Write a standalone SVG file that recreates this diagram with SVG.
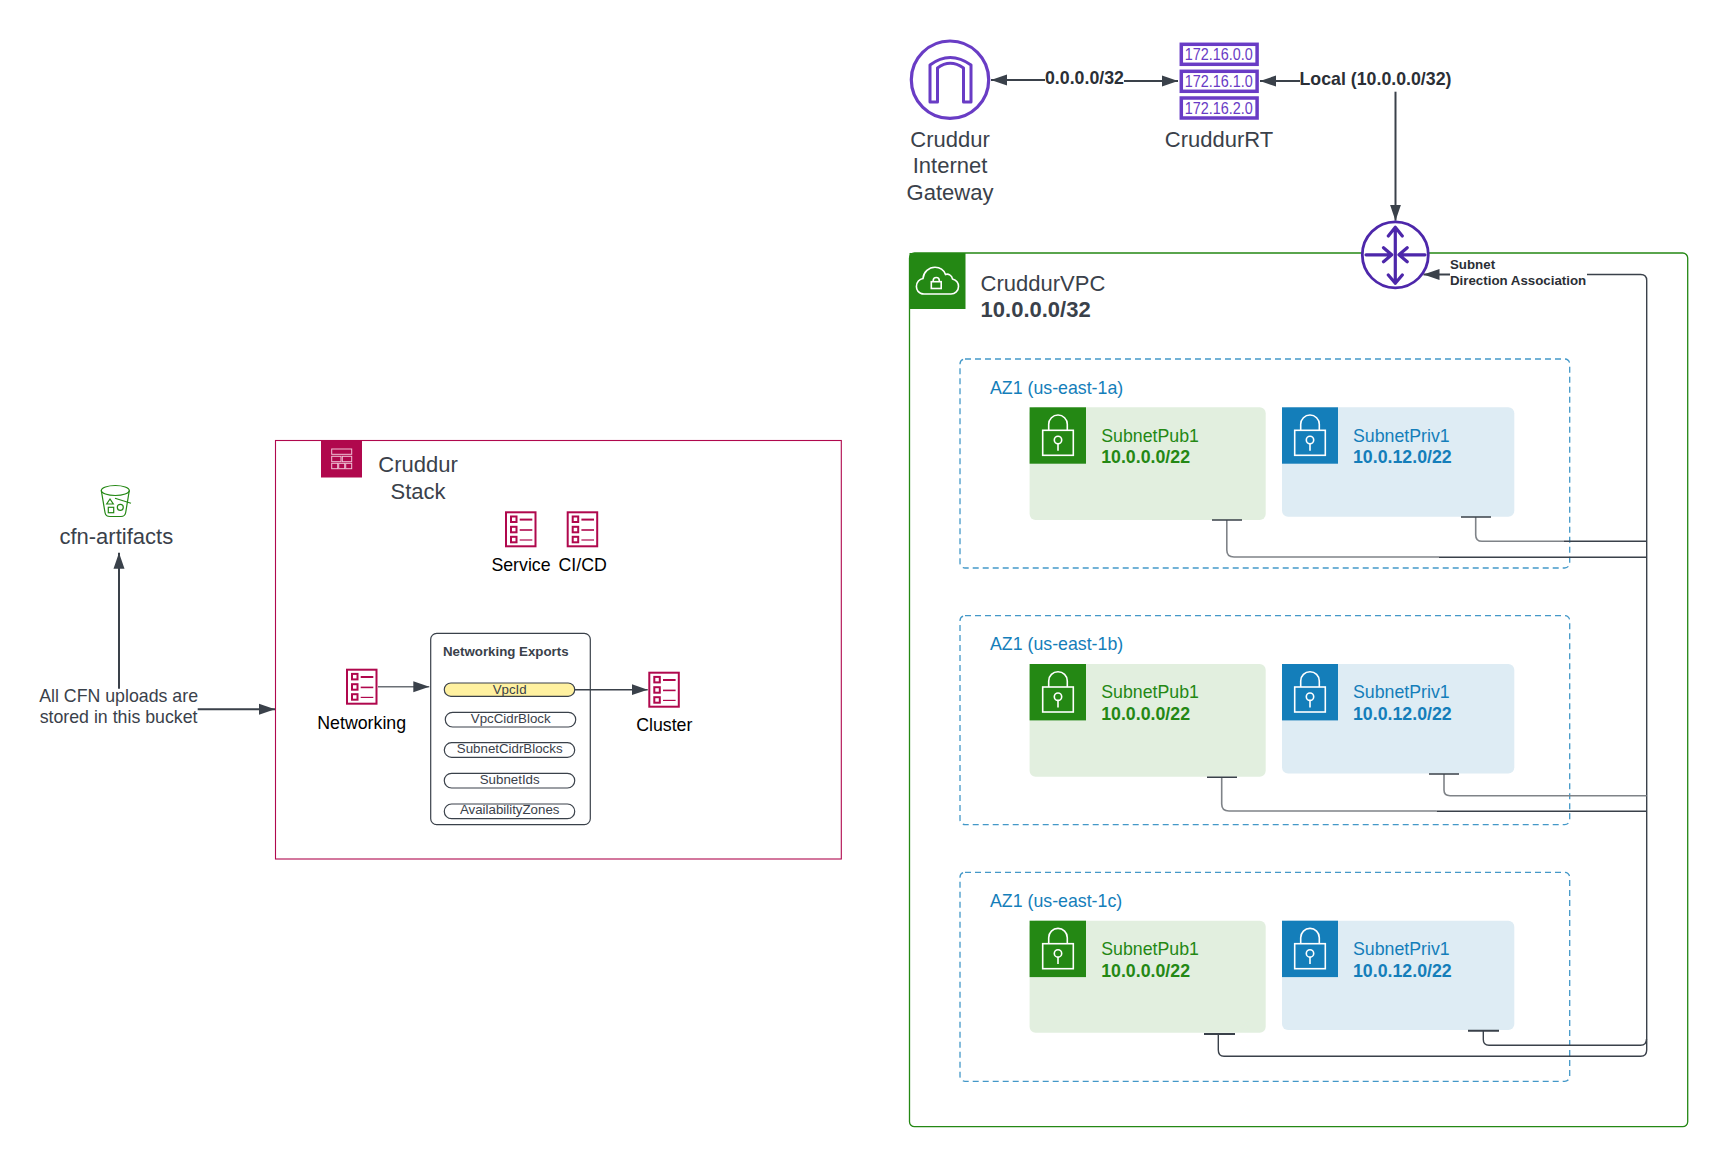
<svg xmlns="http://www.w3.org/2000/svg" width="1729" height="1166" viewBox="0 0 1729 1166">
<style>
text{font-family:"Liberation Sans",Arial,sans-serif;fill:#3a414a}
.t22{font-size:22px}
.t17{font-size:17.75px}
.t13{font-size:13.3px}
.b{font-weight:700}
.m{text-anchor:middle}
.blk{fill:#000}
.g{fill:#248814}
.bl{fill:#147eba}
.az{fill:none;stroke:#147eba;stroke-width:1.3;stroke-dasharray:6 4;opacity:.8}
.pub{fill:#e2efdf}
.priv{fill:#deecf4}
.pill{fill:#fff;stroke:#3a414a;stroke-width:1.2}
.ln{fill:none;stroke:#3a414a;stroke-width:1.4}
.gr{fill:none;stroke:#7f8388;stroke-width:1.6}
.ar{fill:none;stroke:#3a414a;stroke-width:2}
.rt{fill:#fff;stroke:#693cc5;stroke-width:3.5}
.rtt{fill:#693cc5;font-size:16.3px;text-anchor:middle}
.wh{fill:none;stroke:#fff;stroke-width:1.6}
.cr{fill:none;stroke:#b0084d;stroke-width:1.6}
.pu{fill:none;stroke:#4d27aa;stroke-width:3.2;stroke-linecap:round;stroke-linejoin:round}
</style>
<defs>
<marker id="ah" markerUnits="userSpaceOnUse" markerWidth="17" markerHeight="13" refX="16" refY="6" orient="auto-start-reverse"><path d="M0 .5L16 6L0 11.5Z" fill="#3a414a"/></marker>
<g id="lock" class="wh">
<rect x="12.7" y="23" width="30.6" height="25"/>
<path d="M18.7 23V17A9.3 9.3 0 0 1 37.3 17V23"/>
<circle cx="28" cy="32.7" r="3.7"/>
<path d="M28 36.4V43.4"/>
</g>
<g id="doc" class="cr">
<rect x="1" y="1" width="29.5" height="34" stroke-width="2"/>
<rect x="6" y="5.2" width="5.5" height="5.5" stroke-width="2"/>
<rect x="6" y="15.5" width="5.5" height="5.5" stroke-width="2"/>
<rect x="6" y="25.5" width="5.5" height="5.5" stroke-width="2"/>
<path d="M14.7 8.3H27.3" stroke-width="2"/>
<path d="M14.7 18.7H27.3"/>
<path d="M14.7 28.7H27.3" stroke-width="1.2"/>
</g>
</defs>

<g id="vpc">
<rect x="909.5" y="253" width="778.2" height="873.7" rx="5" fill="#fff" stroke="#248814" stroke-width="1.3"/>
<rect x="909.5" y="253" width="56" height="56" fill="#248814"/>
<path class="wh" d="M924 294C918 294 916.4 289 916.4 286.5C916.4 282 919.5 279 923 278.5C923.5 272 929 267.3 935 267.3C940.5 267.3 944 270.5 945.5 274.5C948 273.5 952 275 952.5 279C956 280 958.5 283 958.5 286.5C958.5 291 955 294 951 294Z"/>
<rect class="wh" x="931.3" y="281.7" width="9.9" height="6.8"/>
<path class="wh" d="M933.2 281.7V280.5A3 3 0 0 1 939.3 280.5V281.7"/>
<text class="t22" x="980.6" y="290.7">CruddurVPC</text>
<text class="t22 b" x="980.6" y="317.3">10.0.0.0/32</text>
</g>

<g id="az-a">
<rect class="az" x="960" y="359" width="609.7" height="209" rx="5"/>
<text class="t17 bl" x="990" y="393.6">AZ1 (us-east-1a)</text>
</g>
<g id="subnet-pub-a">
<rect class="pub" x="1029.6" y="407.3" width="236.1" height="112.7" rx="6"/>
<rect x="1029.6" y="407.3" width="56.4" height="56.4" fill="#248814"/>
<use href="#lock" x="1030" y="407.3"/>
<text class="t17 g" x="1101.2" y="441.7">SubnetPub1</text>
<text class="t17 b g" x="1101.2" y="463.3">10.0.0.0/22</text>
</g>
<g id="subnet-priv-a">
<rect class="priv" x="1282" y="407.3" width="232.3" height="109.4" rx="6"/>
<rect x="1282" y="407.3" width="56" height="56.4" fill="#147eba"/>
<use href="#lock" x="1282" y="407.3"/>
<text class="t17 bl" x="1353" y="441.7">SubnetPriv1</text>
<text class="t17 b bl" x="1353" y="463.3">10.0.12.0/22</text>
</g>

<g id="az-b">
<rect class="az" x="960" y="615.7" width="609.7" height="209" rx="5"/>
<text class="t17 bl" x="990" y="650">AZ1 (us-east-1b)</text>
</g>
<g id="subnet-pub-b">
<rect class="pub" x="1029.6" y="664" width="236.1" height="112.7" rx="6"/>
<rect x="1029.6" y="664" width="56.4" height="56.4" fill="#248814"/>
<use href="#lock" x="1030" y="664"/>
<text class="t17 g" x="1101.2" y="698">SubnetPub1</text>
<text class="t17 b g" x="1101.2" y="719.7">10.0.0.0/22</text>
</g>
<g id="subnet-priv-b">
<rect class="priv" x="1282" y="664" width="232.3" height="109.4" rx="6"/>
<rect x="1282" y="664" width="56" height="56.4" fill="#147eba"/>
<use href="#lock" x="1282" y="664"/>
<text class="t17 bl" x="1353" y="698">SubnetPriv1</text>
<text class="t17 b bl" x="1353" y="719.7">10.0.12.0/22</text>
</g>

<g id="az-c">
<rect class="az" x="960" y="872.3" width="609.7" height="209" rx="5"/>
<text class="t17 bl" x="990" y="906.5">AZ1 (us-east-1c)</text>
</g>
<g id="subnet-pub-c">
<rect class="pub" x="1029.6" y="920.7" width="236.1" height="112" rx="6"/>
<rect x="1029.6" y="920.7" width="56.4" height="56.4" fill="#248814"/>
<use href="#lock" x="1030" y="920.7"/>
<text class="t17 g" x="1101.2" y="954.8">SubnetPub1</text>
<text class="t17 b g" x="1101.2" y="976.5">10.0.0.0/22</text>
</g>
<g id="subnet-priv-c">
<rect class="priv" x="1282" y="920.7" width="232.3" height="109.3" rx="6"/>
<rect x="1282" y="920.7" width="56" height="56.4" fill="#147eba"/>
<use href="#lock" x="1282" y="920.7"/>
<text class="t17 bl" x="1353" y="954.8">SubnetPriv1</text>
<text class="t17 b bl" x="1353" y="976.5">10.0.12.0/22</text>
</g>

<g id="igw">
<circle cx="950" cy="79.7" r="38.7" fill="#fff" stroke="#693cc5" stroke-width="3.2"/>
<path d="M930 102V65Q950 50 971 65V102H963.5V68Q950 58.6 937.5 68V102Z" fill="none" stroke="#693cc5" stroke-width="3" stroke-linejoin="round"/>
<text class="t22 m" x="950" y="146.7">Cruddur</text>
<text class="t22 m" x="950" y="173.3">Internet</text>
<text class="t22 m" x="950" y="200">Gateway</text>
</g>

<g id="route-table">
<rect class="rt" x="1181.3" y="44.3" width="75.8" height="20"/>
<rect class="rt" x="1181.3" y="71.3" width="75.8" height="20"/>
<rect class="rt" x="1181.3" y="98" width="75.8" height="20"/>
<text class="rtt" x="1218.7" y="60" textLength="68" lengthAdjust="spacingAndGlyphs">172.16.0.0</text>
<text class="rtt" x="1218.7" y="86.7" textLength="68" lengthAdjust="spacingAndGlyphs">172.16.1.0</text>
<text class="rtt" x="1218.7" y="114" textLength="68" lengthAdjust="spacingAndGlyphs">172.16.2.0</text>
<text class="t22 m" x="1219" y="146.7">CruddurRT</text>
</g>

<g id="stack">
<rect x="275.5" y="440.5" width="565.8" height="418.5" fill="none" stroke="#b0084d" stroke-width="1.1"/>
<rect x="321" y="440.5" width="41" height="37" fill="#b0084d"/>
<g fill="none" stroke="#f0c3d6" stroke-width="1">
<rect x="331.7" y="449" width="20" height="5.3"/>
<rect x="331.7" y="456.3" width="9.3" height="5.4"/>
<rect x="342.3" y="456.3" width="9.4" height="5.4"/>
<rect x="331.7" y="463.3" width="6" height="5.4"/>
<rect x="338.7" y="463.3" width="6" height="5.4"/>
<rect x="345.7" y="463.3" width="6" height="5.4"/>
</g>
<text class="t22 m" x="418" y="471.7">Cruddur</text>
<text class="t22 m" x="418" y="499">Stack</text>
</g>

<g id="service">
<use href="#doc" x="505" y="511.3"/>
<text class="t17 m blk" x="521" y="571">Service</text>
</g>
<g id="cicd">
<use href="#doc" x="566.7" y="511.3"/>
<text class="t17 m blk" x="582.7" y="571">CI/CD</text>
</g>
<g id="networking">
<use href="#doc" x="346" y="668.7"/>
<text class="t17 m blk" x="361.7" y="728.7">Networking</text>
</g>
<g id="cluster">
<use href="#doc" x="648.3" y="671.7"/>
<text class="t17 m blk" x="664.3" y="731.3">Cluster</text>
</g>

<g id="exports">
<rect x="430.7" y="633.3" width="159.6" height="191.4" rx="6" fill="#fff" stroke="#3a414a" stroke-width="1.2"/>
<text class="t13 b" x="443" y="656">Networking Exports</text>
<rect x="444.3" y="683" width="130.4" height="13.3" rx="6.6" fill="#fff1a0" stroke="#3a414a" stroke-width="1.2"/>
<text class="t13 m" x="509.7" y="693.7">VpcId</text>
<rect class="pill" x="445.3" y="712.3" width="130.4" height="14.7" rx="7.3"/>
<text class="t13 m" x="510.7" y="723">VpcCidrBlock</text>
<rect class="pill" x="444.3" y="742.7" width="130.4" height="14.6" rx="7.3"/>
<text class="t13 m" x="509.7" y="753.3">SubnetCidrBlocks</text>
<rect class="pill" x="444.3" y="773.3" width="130.4" height="14.7" rx="7.3"/>
<text class="t13 m" x="509.7" y="784">SubnetIds</text>
<rect class="pill" x="444.3" y="804" width="130.4" height="14.7" rx="7.3"/>
<text class="t13 m" x="509.7" y="814.3">AvailabilityZones</text>
</g>

<g id="bucket">
<g fill="none" stroke="#248814" stroke-width="1.2">
<ellipse cx="115.3" cy="490.5" rx="14" ry="5"/>
<path d="M101.3 490.5L105 512.5Q105.6 516.5 110 516.5H121Q125 516.5 125.7 512.5L129.3 490.5"/>
<path d="M115 498.3L131 503.3"/>
<path d="M110 499L106.7 504H113.3Z"/>
<rect x="108.3" y="507.3" width="5.4" height="5.4"/>
<circle cx="120.3" cy="507.3" r="3"/>
</g>
<text class="t22 m" x="116.3" y="544">cfn-artifacts</text>
</g>

<g id="connectors">
<path class="ar" d="M1045 80H991" marker-end="url(#ah)"/>
<path class="ar" d="M1124 81H1178" marker-end="url(#ah)"/>
<path class="ar" d="M1300 81H1260" marker-end="url(#ah)"/>
<path class="ar" d="M1395.5 91.7V220.7" marker-end="url(#ah)"/>
<path class="ar" d="M1450 274.5H1423.5" marker-end="url(#ah)"/>
<path class="ar" d="M119 688.7V552.7" marker-end="url(#ah)"/>
<path class="ar" d="M197.7 709.3H275" marker-end="url(#ah)"/>
<path d="M378 686.7H429.3" stroke="#6b7076" stroke-width="1.4" fill="none" marker-end="url(#ah)"/>
<path d="M574.7 689.7H647.7" stroke="#3a414a" stroke-width="1.4" fill="none" marker-end="url(#ah)"/>

<path class="ln" d="M1587 274.5H1640.7Q1646.7 274.5 1646.7 280.5V1050Q1646.7 1056.3 1640.7 1056.3H1224Q1218.3 1056.3 1218.3 1050V1034"/>
<path class="ln" d="M1483.3 1030.7V1039.5Q1483.3 1045.3 1489 1045.3H1640.5Q1646.5 1045.3 1646.5 1039"/>
<path d="M1204 1034H1235M1468 1030.7H1499" fill="none" stroke="#3a414a" stroke-width="2"/>

<path class="gr" d="M1226.8 520V550Q1226.8 557 1234 557H1439"/>
<path class="ln" d="M1439 557.3H1646.7"/>
<path class="gr" d="M1475.7 517V535Q1475.7 541.3 1482 541.3H1564"/>
<path class="ln" d="M1564 541.3H1646.7"/>
<path class="ln" d="M1212 520H1242M1461 517H1491"/>

<path class="gr" d="M1221.7 777.3V804Q1221.7 811 1229 811H1436.7"/>
<path class="ln" d="M1436.7 811.3H1646.7"/>
<path class="gr" d="M1444 774V790Q1444 795.7 1450 795.7H1646.7"/>
<path class="ln" d="M1207 777.3H1237M1429 774H1459"/>
</g>

<g id="connector-labels">
<text class="t17 b" x="1045" y="84" style="fill:#2b2f36">0.0.0.0/32</text>
<text class="t17 b" x="1299.5" y="85" style="fill:#2b2f36">Local (10.0.0.0/32)</text>
<text class="t13 b" x="1450" y="269" style="fill:#2b2f36">Subnet</text>
<text class="t13 b" x="1450" y="285" style="fill:#2b2f36">Direction Association</text>
<text class="t17" x="118.6" y="701.7" text-anchor="middle">All CFN uploads are</text>
<text class="t17" x="118.6" y="723.3" text-anchor="middle">stored in this bucket</text>
</g>

<g id="router">
<circle cx="1395.3" cy="254.8" r="33" fill="#fff" stroke="#4d27aa" stroke-width="2.8"/>
<path class="pu" d="M1395.3 227.3V283.3M1388.3 236L1395.3 227.3L1402.3 236M1388.3 275L1395.3 283.3L1402.3 275"/>
<path class="pu" d="M1366 254.8H1391.7M1383.5 247.8L1391.7 254.8L1383.5 261.8M1425 254.8H1399M1407.2 247.8L1399 254.8L1407.2 261.8"/>
</g>
</svg>
